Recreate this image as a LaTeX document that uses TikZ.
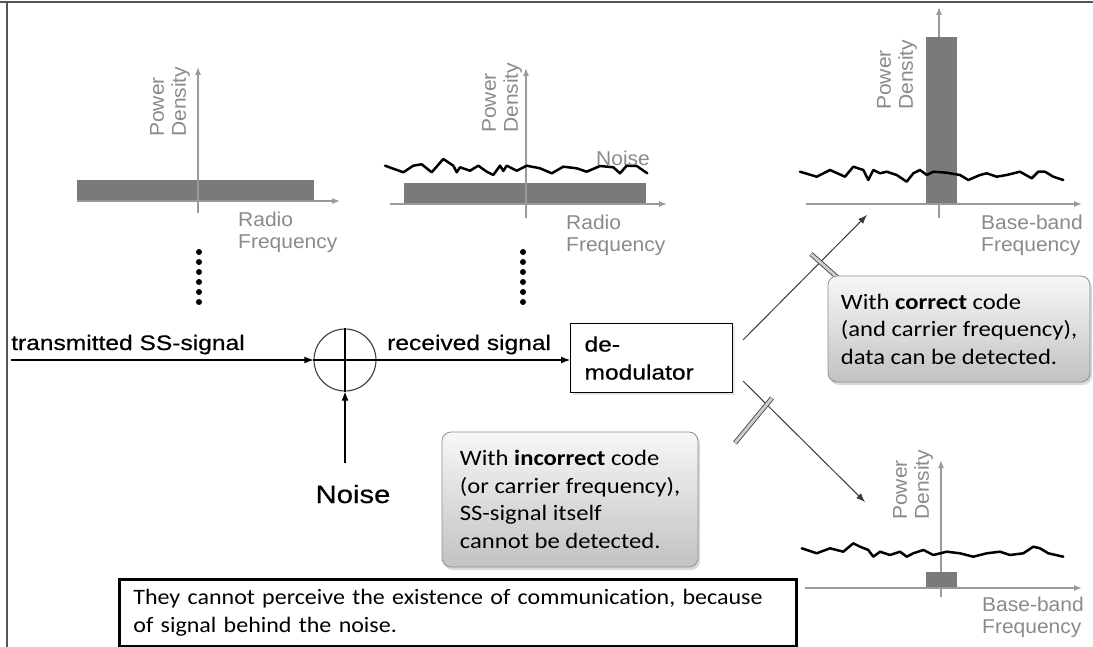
\documentclass[tikz,border=0pt]{standalone}
\usepackage{fontspec}
\setmainfont{Liberation Sans}
\newfontfamily\lblfont[FakeStretch=1.17,FakeBold=0.5]{Liberation Sans}
\newfontfamily\axfont[FakeStretch=1.05]{Liberation Sans}
\newfontfamily\notefont[FakeStretch=1.12,Ligatures=NoCommon]{Carlito}
\newfontfamily\summaryfont[FakeStretch=1.09,Ligatures=NoCommon]{Carlito}
\usetikzlibrary{arrows.meta,shadows}

\definecolor{axgray}{HTML}{9A9A9A}
\definecolor{bandgray}{HTML}{7A7A7A}
\definecolor{labgray}{HTML}{8A8A8A}
\definecolor{framegray}{HTML}{555555}
\definecolor{notegray}{HTML}{8F8F8F}
\definecolor{diaggray}{HTML}{3A3A3A}

\begin{document}
\begin{tikzpicture}[x=1pt,y=-1pt,
  axis/.style={draw=axgray, line width=1.3pt, -{Latex[length=8pt,width=6pt]}},
  band/.style={fill=bandgray, draw=none},
  noisecurve/.style={line width=2.5pt, line join=round, line cap=round},
  axlabel/.style={font=\axfont\fontsize{20}{22}\selectfont, text=labgray, inner sep=0pt, align=left, anchor=north west},
  pdlabel/.style={axlabel, rotate=90},
  sig/.style={font=\lblfont\fontsize{21}{28}\selectfont, inner sep=0pt},
  flow/.style={line width=1.1pt, -{Latex[length=9pt,width=7pt]}},
  diag/.style={draw=diaggray, line width=1pt, -{Latex[length=9pt,width=7pt]}},
  blockbar/.style={draw=diaggray, line width=0.8pt, double=gray!40, double distance=3pt},
  note/.style={rounded corners=9pt, draw=notegray, line width=0.8pt,
    top color=gray!6, bottom color=gray!48,
    drop shadow={shadow xshift=2pt, shadow yshift=-3pt, opacity=0.3},
    font=\notefont\fontsize{22}{27.5}\selectfont, align=left, inner sep=0pt},
]
\useasboundingbox (0,0) rectangle (1093,647);

% frame edges
\draw[framegray, line width=1.5pt] (0,2) -- (1093,2);
\draw[framegray, line width=1.5pt] (7,2) -- (7,647);

% ---- spectrum of the transmitted signal
\fill[band] (77,180) rectangle (314,200);
\draw[axis] (198,213) -- (198,67);
\draw[axis] (77,201) -- (340,201);
\node[pdlabel] (pd1) at (150,137) {Power\\Density};
\node[axlabel] (rf1) at (238,212) {Radio\\Frequency};
\foreach \k in {0,...,5} \fill (199,{252+10*\k}) circle (3pt);

% ---- spectrum of the received signal
\fill[band] (404,183) rectangle (646,204);
\draw[axis] (526,218) -- (526,68);
\draw[axis] (390,204) -- (667,204);
\draw[noisecurve] (385,165.7) -- (403.3,172.3) -- (413.3,165.7) -- (421.7,164.3) -- (431.7,172.3)
  -- (443.3,159) -- (453.3,165.7) -- (456.7,172.3) -- (460,167.3) -- (470,170.7) -- (478.3,165.7)
  -- (486.7,171.7) -- (493.3,175) -- (500,165.7) -- (503.3,171) -- (506.7,165.7) -- (516.7,170.7)
  -- (526.7,165.7) -- (540,168.3) -- (551.7,173.3) -- (563.3,166.7) -- (576.7,168.3) -- (586.7,171.7)
  -- (600,166) -- (613.3,167.3) -- (620,173.3) -- (626.7,165.7) -- (636.7,166) -- (647.3,173.3);
\node[pdlabel] (pd2) at (482,133) {Power\\Density};
\node[axlabel] (rf2) at (566,215) {Radio\\Frequency};
\node[axlabel] (nz2) at (596,151) {Noise};
\foreach \k in {0,...,5} \fill (523,{252+10*\k}) circle (3pt);

% ---- base-band spectrum, correct code
\draw[axis] (939,218) -- (939,7);
\fill[band] (926,37) rectangle (957,204);
\draw[axis] (806,204) -- (1082,204);
\draw[noisecurve] (800,171.7) -- (816.7,176.7) -- (830,170) -- (845,176.7) -- (853.3,166.7)
  -- (863.3,170) -- (868.3,180) -- (873.3,170) -- (880,173.3) -- (886.7,171.7) -- (896.7,175)
  -- (906.7,181.7) -- (913.3,173.3) -- (920,170) -- (926.7,175) -- (933.3,171.7) -- (946.7,172.7)
  -- (960,175) -- (968.3,180) -- (980,175) -- (986.7,173.3) -- (996.7,176.7) -- (1006.7,175)
  -- (1020,171.7) -- (1031.7,178.3) -- (1038.3,171.7) -- (1045,171.7) -- (1053.3,176.7) -- (1063.3,180);
\node[pdlabel] (pd3) at (877,110) {Power\\Density};
\node[axlabel] (bb3) at (981,215) {Base-band\\Frequency};

% ---- base-band spectrum, incorrect code
\draw[axis] (941,597) -- (941,460);
\fill[band] (926,572) rectangle (957,588);
\draw[axis] (805,588) -- (1082,588);
\draw[noisecurve] (801.7,548.3) -- (816.7,553.3) -- (830,548.3) -- (843.3,551.7) -- (853.3,543.3)
  -- (860,546.7) -- (868.3,550) -- (873.3,556.7) -- (880,551.7) -- (890,555) -- (900,551.7)
  -- (906.7,556.7) -- (913.3,553.3) -- (923.3,550) -- (933.3,555) -- (946.7,551.7) -- (960,553.3)
  -- (973.3,556.7) -- (986.7,553.3) -- (1000,551.7) -- (1010,555) -- (1023.3,553.3) -- (1033.3,546.7)
  -- (1040,548.3) -- (1048.3,553.3) -- (1063.3,556.7);
\node[pdlabel] (pd4) at (893,520) {Power\\Density};
\node[axlabel] (bb4) at (982,597) {Base-band\\Frequency};

% ---- signal chain
\node[sig, anchor=base west] (txlbl) at (11,350) {transmitted SS-signal};
\node[sig, anchor=base west] (rxlbl) at (387,350) {received signal};
\node[circle, draw=diaggray, line width=1.1pt, minimum size=62pt, inner sep=0pt] (sum) at (345,360) {};
\draw[line width=1.1pt] (sum.north) -- (sum.south);
\draw[line width=1.1pt] (sum.west) -- (sum.east);
\node[draw, line width=1.1pt, fill=white, anchor=north west, minimum width=162pt, minimum height=69pt,
  text width=134pt, inner xsep=14pt, align=left, font=\lblfont\fontsize{21}{28}\selectfont,
  drop shadow={shadow xshift=2pt, shadow yshift=-2pt, opacity=0.2}] (demod) at (570,323) {de-\\modulator};
\node[font=\lblfont\fontsize{25}{30}\selectfont, inner sep=0pt, anchor=base] (nzlbl) at (353,503) {Noise};

\coordinate (txstart) at (11,360);
\coordinate (noisein) at (345,463);
\draw[flow] (txstart) -- (sum.west);
\draw[flow] (noisein) -- (sum.south);
\draw[flow] (sum.east) -- (sum.east -| demod.west);

% demodulator outputs
\coordinate (okstart) at (743,340);
\coordinate (okend) at (867,215);
\coordinate (badstart) at (743,381);
\coordinate (badend) at (865,502);
\draw[diag] (okstart) -- (okend);
\draw[diag] (badstart) -- (badend);
\draw[blockbar] (811,254) -- (838,278);
\draw[blockbar] (735,443) -- (772,398);

% notes
\node[note, minimum width=262pt, minimum height=106pt] (oknote) at (959,329)
  {With \textbf{correct} code\\(and carrier frequency),\\data can be detected.};
\node[note, minimum width=256pt, minimum height=135pt] (badnote) at (570,499.5)
  {With \textbf{incorrect} code\\(or carrier frequency),\\SS-signal itself\\cannot be detected.};

\node[draw, line width=2.8pt, fill=white, anchor=north west, minimum width=677pt, minimum height=67pt,
  text width=649pt, inner xsep=14pt, align=left, font=\summaryfont\fontsize{22}{28}\selectfont] (summary) at (118,578)
  {They cannot perceive the existence of communication, because\\of signal behind the noise.};
\end{tikzpicture}
\end{document}
